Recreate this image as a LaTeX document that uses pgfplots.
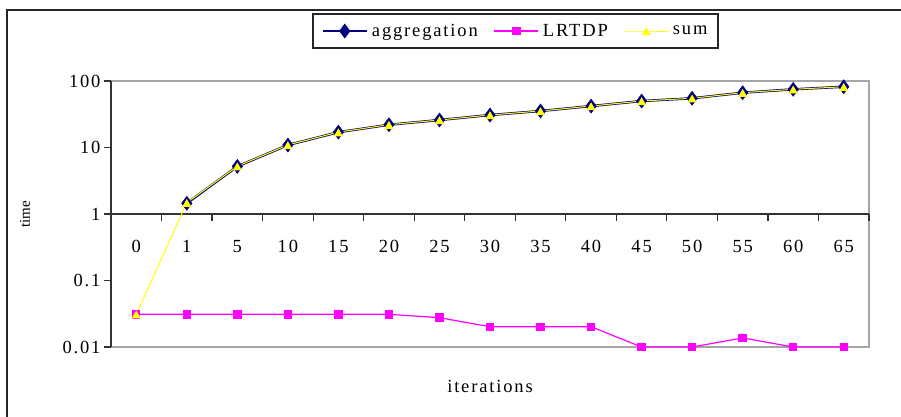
\documentclass[border=0pt]{standalone}
\usepackage{fontspec}
\setmainfont{Liberation Serif}[LetterSpace=10]
\usepackage{pgfplots}
\pgfplotsset{compat=1.18}
\definecolor{aggblue}{RGB}{0,0,128}
\definecolor{lrmag}{RGB}{255,0,255}
\definecolor{sumyel}{RGB}{255,255,0}
\definecolor{boxgrey}{RGB}{165,165,165}
\newcommand\bigf{\fontsize{18.5pt}{20pt}\selectfont}

\begin{document}
\begin{tikzpicture}
\path[use as bounding box] (0pt,0pt) rectangle (901pt,-416pt);
\draw[black!85, line width=1.3pt] (7pt,-480pt) -- (7pt,-10pt) -- (960pt,-10pt);
\begin{axis}[
  at={(111pt,-347pt)}, anchor=south west,
  width=758pt, height=266pt, scale only axis,
  ymode=log, ymin=0.01, ymax=100,
  xmin=-0.5, xmax=14.5,
  axis x line=middle, axis y line=left,
  hide obscured x ticks=false,
  axis line style={-, draw=black!80, line width=1.2pt},
  axis background/.style={draw=boxgrey, line width=1.2pt},
  tick align=outside,
  major tick length=7pt,
  tick style={black!80, line width=1.2pt},
  yminorticks=false,
  ytick={0.01,0.1,1,10,100},
  yticklabels={0.01,0.1,1,10,100},
  xtick={-0.5,0.5,...,14.5},
  x tick label as interval,
  xticklabels={0,1,5,10,15,20,25,30,35,40,45,50,55,60,65},
  xticklabel style={yshift=-16pt},
  tick label style={font=\bigf},
  /pgf/number format/assume math mode=true,
  every axis x label/.style={at={(axis description cs:0.5,-0.147)}, anchor=center, font=\bigf},
  every axis y label/.style={at={(axis description cs:-0.1135,0.5)}, anchor=center, rotate=90,
    font=\fontsize{15pt}{17pt}\selectfont\addfontfeature{LetterSpace=0}},
  xlabel={iterations},
  ylabel={time},
  legend columns=3,
  legend style={at={(axis description cs:0.5336,1.188)}, anchor=center, name=leg,
    draw=none, fill=none, font=\bigf, inner xsep=5pt, inner ysep=2pt,
    /tikz/every odd column/.append style={column sep=2pt},
    /tikz/every even column/.append style={column sep=14pt}},
  legend image code/.code={\draw[mark repeat=2,mark phase=2] plot coordinates {(0pt,0pt) (22pt,0pt) (44pt,0pt)};},
]
\addplot[aggblue, line width=2.4pt, mark=diamond*, mark size=7pt, mark options={fill=aggblue, line width=0.5pt}]
  coordinates {(1,1.45) (2,5.2) (3,10.9) (4,17.0) (5,22) (6,25.9) (7,30.8) (8,35.4)
               (9,42) (10,50) (11,55) (12,66.7) (13,75) (14,82)};
\addlegendentry{aggregation}
\addplot[lrmag, line width=1.2pt, mark=square*, mark size=3.6pt, mark options={fill=lrmag}]
  coordinates {(0,0.031) (1,0.031) (2,0.031) (3,0.031) (4,0.031) (5,0.031) (6,0.0276)
               (7,0.0202) (8,0.0202) (9,0.0202) (10,0.01) (11,0.01) (12,0.0137) (13,0.01) (14,0.01)};
\addlegendentry{LRTDP}
\addplot[sumyel, line width=1pt, mark=triangle*, mark size=4.3pt, mark options={fill=sumyel, yshift=-1.5pt}]
  coordinates {(0,0.031) (1,1.48) (2,5.23) (3,10.93) (4,17.03) (5,22.03) (6,25.93) (7,30.82)
               (8,35.42) (9,42.02) (10,50.01) (11,55.01) (12,66.71) (13,75.01) (14,82.01)};
\addlegendentry{sum}
\end{axis}
\draw[black!85, line width=1.2pt] (313pt,-14pt) rectangle (718pt,-48pt);
\end{tikzpicture}
\end{document}
